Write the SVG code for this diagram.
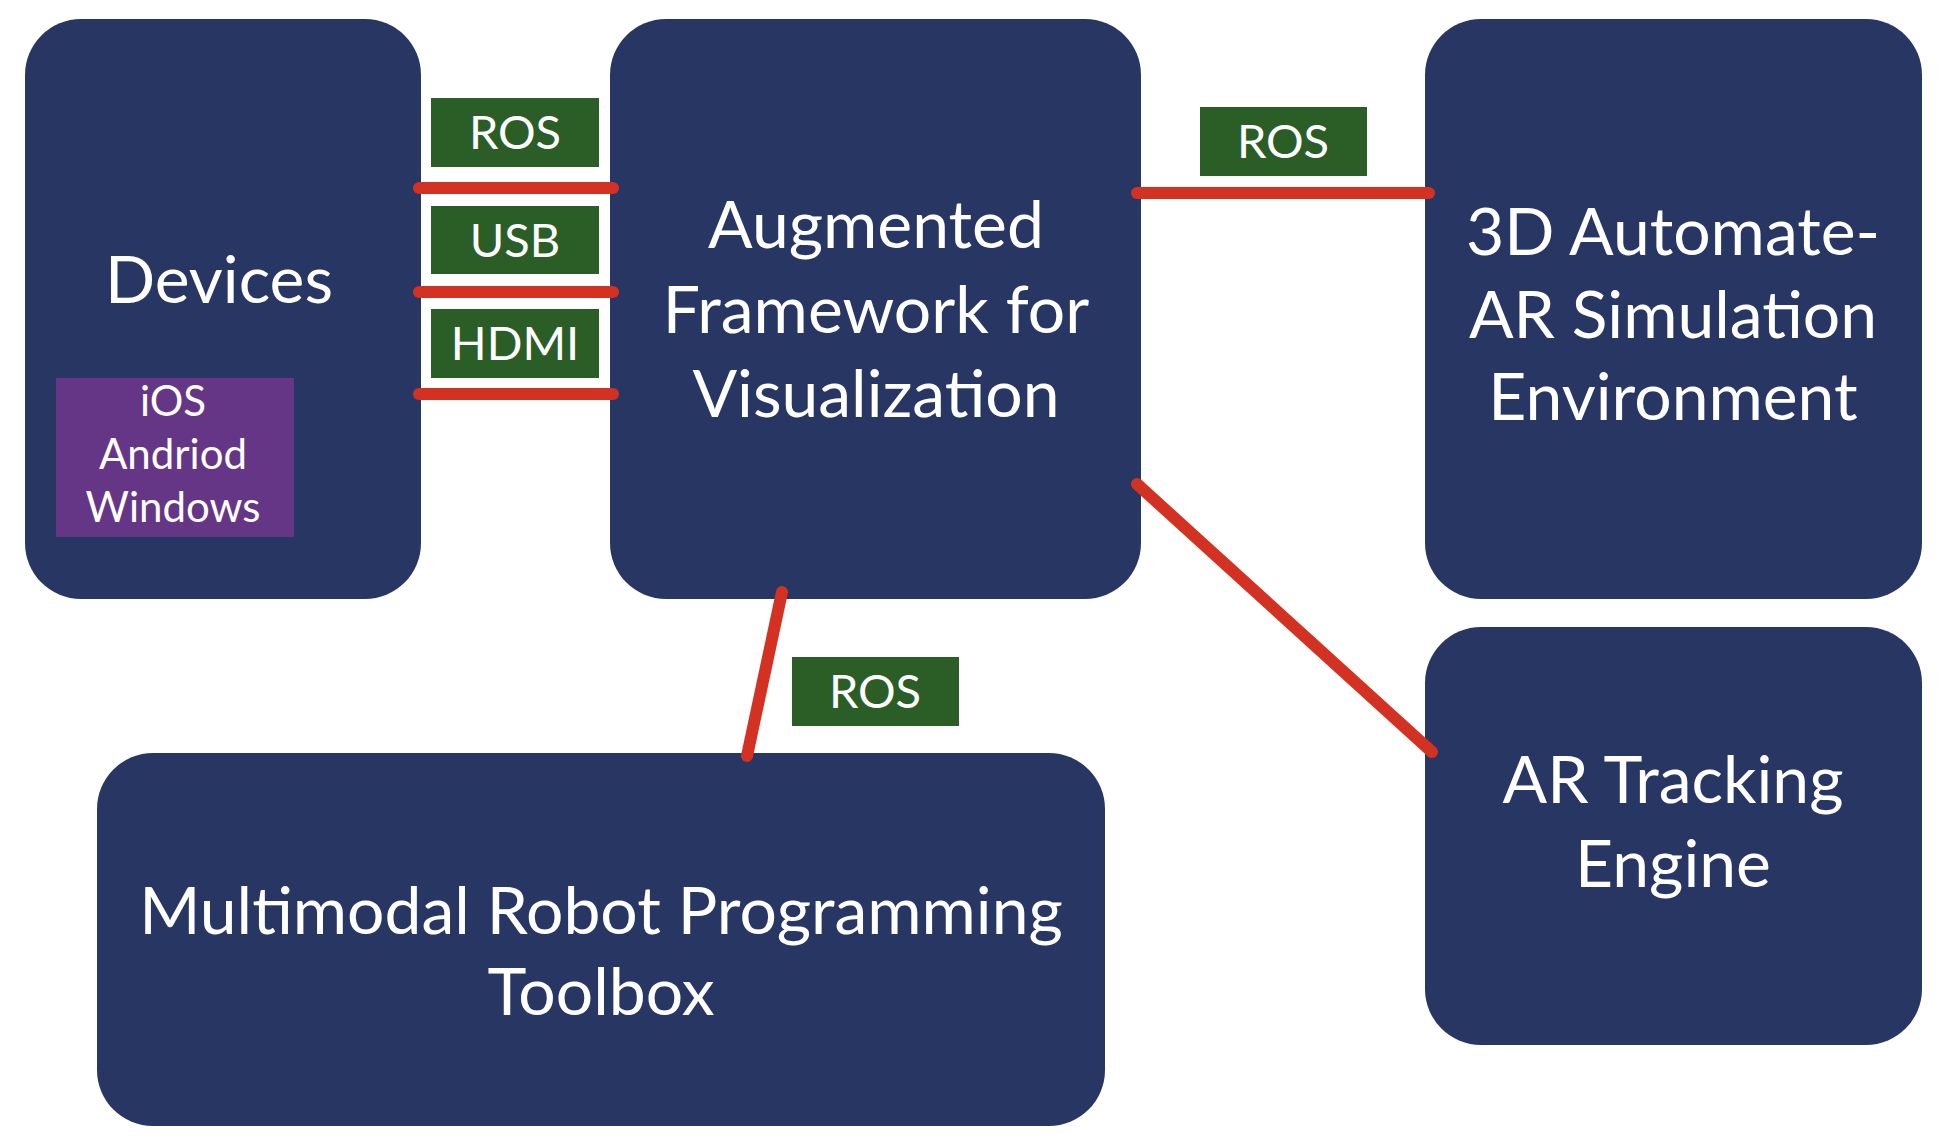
<svg xmlns="http://www.w3.org/2000/svg" width="1945" height="1148" viewBox="0 0 1945 1148">
<style>
.n{fill:#283663}
.g{fill:#2a5e26}
.t{fill:#fff;font-family:Lato,"Open Sans",sans-serif;text-anchor:middle}
.b{font-size:66px}
.s{font-size:47px}
.p{font-size:42px}
.c{stroke:#d33222;stroke-width:12;stroke-linecap:round;fill:none}
</style>
<rect width="1945" height="1148" fill="#fff"/>
<g id="devices">
<rect class="n" x="25" y="19" width="396" height="580" rx="56"/>
<text class="t b" x="219" y="303">Devices</text>
<rect x="56" y="378" width="238" height="159" fill="#663686"/>
<text class="t p" x="173" y="416">iOS</text>
<text class="t p" x="173" y="469">Andriod</text>
<text class="t p" x="173" y="522">Windows</text>
</g>
<g id="framework">
<rect class="n" x="610" y="19" width="531" height="580" rx="56"/>
<text class="t b" x="876" y="248">Augmented</text>
<text class="t b" x="876" y="333">Framework for</text>
<text class="t b" x="876" y="417">Visualization</text>
</g>
<g id="sim">
<rect class="n" x="1425" y="19" width="497" height="580" rx="56"/>
<text class="t b" x="1673" y="255">3D Automate-</text>
<text class="t b" x="1673" y="338">AR Simulation</text>
<text class="t b" x="1673" y="420">Environment</text>
</g>
<g id="tracking">
<rect class="n" x="1425" y="627" width="497" height="418" rx="56"/>
<text class="t b" x="1673" y="803">AR Tracking</text>
<text class="t b" x="1673" y="887">Engine</text>
</g>
<g id="toolbox">
<rect class="n" x="97" y="753" width="1008" height="373" rx="56"/>
<text class="t b" x="601" y="934">Multimodal Robot Programming</text>
<text class="t b" x="601" y="1015">Toolbox</text>
</g>
<g id="connectors">
<line class="c" x1="419" y1="188" x2="613" y2="188"/>
<line class="c" x1="419" y1="292" x2="613" y2="292"/>
<line class="c" x1="419" y1="394" x2="613" y2="394"/>
<line class="c" x1="1137" y1="193" x2="1429" y2="193"/>
<line class="c" x1="1137" y1="484" x2="1432" y2="752"/>
<line class="c" x1="782" y1="592" x2="747" y2="756"/>
</g>
<g id="labels">
<rect class="g" x="431" y="98" width="168" height="69"/>
<text class="t s" x="515" y="149">ROS</text>
<rect class="g" x="431" y="206" width="168" height="68"/>
<text class="t s" x="515" y="257">USB</text>
<rect class="g" x="431" y="309" width="168" height="69"/>
<text class="t s" x="515" y="360">HDMI</text>
<rect class="g" x="1200" y="107" width="167" height="69"/>
<text class="t s" x="1283" y="158">ROS</text>
<rect class="g" x="792" y="657" width="167" height="69"/>
<text class="t s" x="875" y="708">ROS</text>
</g>
</svg>
